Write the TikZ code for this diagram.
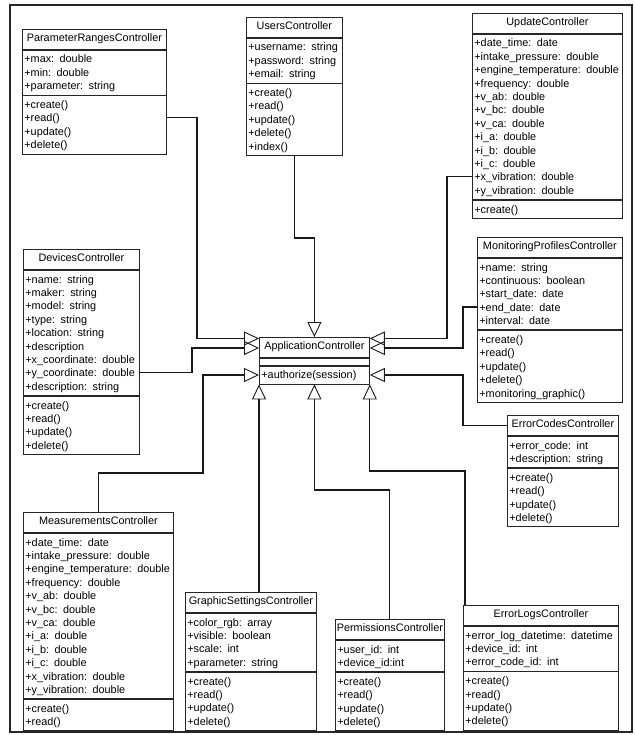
\documentclass[tikz,border=0pt]{standalone}
\usepackage{fontspec}
\setmainfont{Liberation Sans}
\usetikzlibrary{arrows.meta,calc}
\newcommand\rowstrut{\rule[-2.9pt]{0pt}{13.4pt}}
\newcommand\headstrut{\rule[-3pt]{0pt}{11pt}}
\tikzset{
  boxline/.style={draw=black!85, line width=0.8pt},
  clshead/.style={boxline, inner sep=0pt, minimum height=20pt, font=\fontsize{10.85pt}{13.4pt}\selectfont, execute at begin node=\headstrut},
  clssec/.style={boxline, inner xsep=2pt, inner ysep=2.3pt, align=left, font=\fontsize{10.85pt}{13.4pt}\selectfont, execute at begin node=\rowstrut, execute at end node=\rowstrut},
  gen/.style={draw=black!90, line width=1.1pt, -{Triangle[open, length=15pt, width=14pt, line width=0.9pt]}},
  frame/.style={draw=black!85, line width=1.3pt}
}
\newcommand\umlclass[7]{%
  \node[clshead, minimum width=#4pt, anchor=north west] (#1) at (#2,#3) {#5};
  \node[clssec, text width=#4pt-4pt, anchor=north west] (#1-a) at (#1.south west) {#6};
  \node[clssec, text width=#4pt-4pt, anchor=north west] (#1-m) at (#1-a.south west) {#7};
}
\begin{document}
\begin{tikzpicture}[x=1pt,y=-1pt]
\useasboundingbox (0,0) rectangle (634,735);
\draw[frame] (10,5) rectangle (632,732);

\umlclass{PR}{22}{29}{144}{ParameterRangesController}
  {+max: double\\+min: double\\+parameter: string}
  {+create()\\+read()\\+update()\\+delete()}
\umlclass{Users}{246}{17}{96}{UsersController}
  {+username: string\\+password: string\\+email: string}
  {+create()\\+read()\\+update()\\+delete()\\+index()}
\umlclass{Update}{472}{13}{150}{UpdateController}
  {+date\_time: date\\+intake\_pressure: double\\+engine\_temperature: double\\+frequency: double\\+v\_ab: double\\+v\_bc: double\\+v\_ca: double\\+i\_a: double\\+i\_b: double\\+i\_c: double\\+x\_vibration: double\\+y\_vibration: double}
  {+create()}
\umlclass{Devices}{23}{249}{116}{DevicesController}
  {+name: string\\+maker: string\\+model: string\\+type: string\\+location: string\\+description\\+x\_coordinate: double\\+y\_coordinate: double\\+description: string}
  {+create()\\+read()\\+update()\\+delete()}
\umlclass{MP}{477}{237}{145}{MonitoringProfilesController}
  {+name: string\\+continuous: boolean\\+start\_date: date\\+end\_date: date\\+interval: date}
  {+create()\\+read()\\+update()\\+delete()\\+monitoring\_graphic()}
\umlclass{EC}{507}{415}{111}{ErrorCodesController}
  {+error\_code: int\\+description: string}
  {+create()\\+read()\\+update()\\+delete()}
\umlclass{Meas}{23}{512}{150}{MeasurementsController}
  {+date\_time: date\\+intake\_pressure: double\\+engine\_temperature: double\\+frequency: double\\+v\_ab: double\\+v\_bc: double\\+v\_ca: double\\+i\_a: double\\+i\_b: double\\+i\_c: double\\+x\_vibration: double\\+y\_vibration: double}
  {+create()\\+read()}
\umlclass{GS}{185}{592}{131}{GraphicSettingsController}
  {+color\_rgb: array\\+visible: boolean\\+scale: int\\+parameter: string}
  {+create()\\+read()\\+update()\\+delete()}
\umlclass{Perm}{335}{619}{109}{PermissionsController}
  {+user\_id: int\\+device\_id:int}
  {+create()\\+read()\\+update()\\+delete()}
\umlclass{EL}{463}{605}{155}{ErrorLogsController}
  {+error\_log\_datetime: datetime\\+device\_id: int\\+error\_code\_id: int}
  {+create()\\+read()\\+update()\\+delete()}

% ApplicationController
\node[clshead, minimum width=110pt, anchor=north west] (App) at (259,337) {ApplicationController};
\node[boxline, minimum width=110pt, minimum height=7pt, inner sep=0pt, anchor=north west] (App-a) at (App.south west) {};
\node[clssec, text width=106pt, anchor=north west] (App-m) at (App-a.south west) {+authorize(session)};

% attachment points
\coordinate (eL1) at ([yshift=-1.5pt]App.north west);
\coordinate (eL2) at ([yshift=-11pt]App.north west);
\coordinate (eR1) at ([yshift=-1.5pt]App.north east);
\coordinate (eR2) at ([yshift=-11pt]App.north east);
\coordinate (sPR) at ([yshift=-22.4pt]PR-m.north east);
\coordinate (sUp) at ([yshift=-143pt]Update-a.north west);
\coordinate (sDv) at ([yshift=-102.8pt]Devices-a.north east);
\coordinate (sMP) at ([yshift=-49.2pt]MP-a.north west);
\coordinate (sEL) at ([xshift=2pt]EL.north west);
\coordinate (xPR) at (197,0);
\coordinate (xDv) at (192,0);
\coordinate (xUp) at (447,0);
\coordinate (xMP) at (463,0);
\coordinate (xEC) at (463,0);
\coordinate (yU) at (0,238);
\coordinate (mB) at (203,473);
\coordinate (yP) at (0,490);
\coordinate (yEL) at (0,471);

% generalisations
\draw[gen] (sPR) -| (xPR |- eL1) -- (eL1);
\draw[gen] (Users-m.south) -- (Users-m.south |- yU) -- (App.north |- yU) -- (App.north);
\draw[gen] (sUp) -| (xUp |- eR1) -- (eR1);
\draw[gen] (sDv) -| (xDv |- eL2) -- (eL2);
\draw[gen] (sMP) -| (xMP |- eR2) -- (eR2);
\draw[gen] (Meas.north) |- (mB) |- (App-m.west);
\draw[gen] (EC.west) -| (xEC |- App-m.east) -- (App-m.east);
\draw[gen] (GS.north -| App-m.south west) -- (App-m.south west);
\draw[gen] (Perm.north) -- (Perm.north |- yP) -- (App-m.south |- yP) -- (App-m.south);
\draw[gen] (sEL) -- (sEL |- yEL) -- (App-m.south east |- yEL) -- (App-m.south east);
\end{tikzpicture}
\end{document}
